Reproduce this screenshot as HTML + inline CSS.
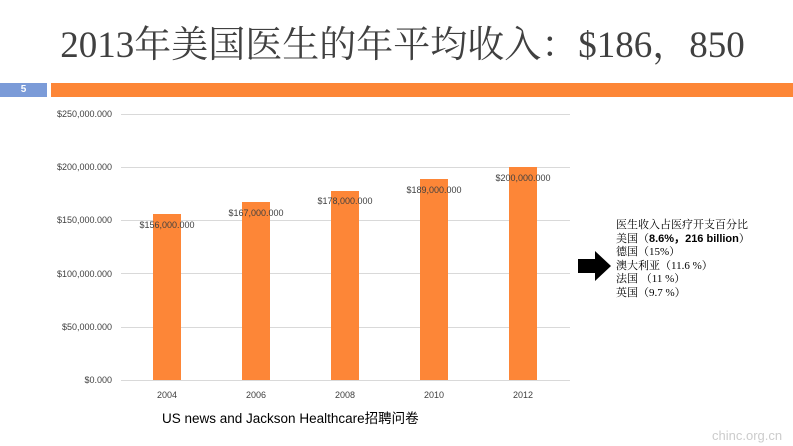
<!DOCTYPE html>
<html><head><meta charset="utf-8"><style>
body{margin:0;width:793px;height:446px;background:#fff;position:relative;overflow:hidden;font-family:"Liberation Sans","Noto Sans CJK SC",sans-serif}
.a{position:absolute}
</style></head><body>
<div class="a" style="left:0;top:16px;width:805px;text-align:center;font-family:'Liberation Serif','Noto Serif CJK SC',serif;font-size:37px;color:#404040;line-height:60px">2013年美国医生的年平均收入：$186，850</div>
<div class="a" style="left:0;top:83px;width:47px;height:14px;background:#7b9bd8;color:#fff;font-size:10px;font-weight:bold;line-height:14px;text-align:center">5</div>
<div class="a" style="left:51px;top:83px;width:742px;height:14px;background:#fd8637"></div>
<svg class="a" style="left:0;top:0" width="793" height="446">
<g stroke="#d9d9d9" stroke-width="1">
<line x1="121" x2="570" y1="114.5" y2="114.5"/><line x1="121" x2="570" y1="167.5" y2="167.5"/><line x1="121" x2="570" y1="220.5" y2="220.5"/><line x1="121" x2="570" y1="273.5" y2="273.5"/><line x1="121" x2="570" y1="327.5" y2="327.5"/><line x1="121" x2="570" y1="380.5" y2="380.5"/>
</g>
<g font-size="9" fill="#404040" text-anchor="end">
<text x="112" y="117">$250,000.000</text><text x="112" y="170">$200,000.000</text><text x="112" y="223">$150,000.000</text><text x="112" y="277">$100,000.000</text><text x="112" y="330">$50,000.000</text><text x="112" y="383">$0.000</text>
</g>
<g fill="#fd8637">
<rect x="153" y="214" width="28" height="166"/><rect x="242" y="202" width="28" height="178"/><rect x="331" y="191" width="28" height="189"/><rect x="420" y="179" width="28" height="201"/><rect x="509" y="167" width="28" height="213"/>
</g>
<g font-size="9" fill="#404040" text-anchor="middle">
<text x="167" y="228">$156,000.000</text><text x="256" y="216">$167,000.000</text><text x="345" y="204">$178,000.000</text><text x="434" y="193">$189,000.000</text><text x="523" y="181">$200,000.000</text>
<text x="167" y="398">2004</text><text x="256" y="398">2006</text><text x="345" y="398">2008</text><text x="434" y="398">2010</text><text x="523" y="398">2012</text>
</g>
<polygon points="578,259 595,259 595,251 611,266 595,281 595,273 578,273" fill="#000"/>
</svg>
<div class="a" style="left:162px;top:407px;font-size:13.5px;color:#000">US news and Jackson Healthcare招聘问卷</div>
<div class="a" style="left:616px;top:219px;font-size:11px;line-height:13.5px;color:#000;font-family:'Liberation Serif','Noto Serif CJK SC',serif">
医生收入占医疗开支百分比<br>美国（<b style="font-family:'Liberation Sans',sans-serif">8.6%，216 billion</b>）<br>德国（15%）<br>澳大利亚（11.6 %）<br>法国 （11 %）<br>英国（9.7 %）</div>
<div class="a" style="left:712px;top:428px;font-size:13px;color:#ccc">chinc.org.cn</div>
</body></html>
